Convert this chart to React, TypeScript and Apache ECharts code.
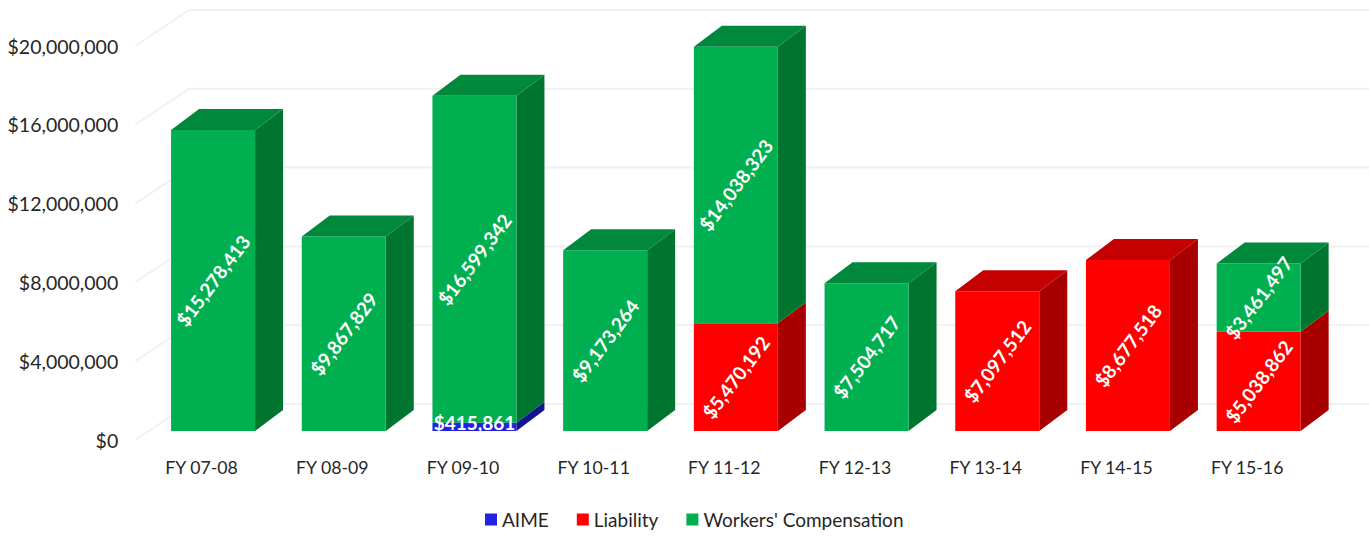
import React, { useEffect, useRef } from "react";
import * as echarts from "echarts";

const categories = ["FY 07-08", "FY 08-09", "FY 09-10", "FY 10-11", "FY 11-12", "FY 12-13", "FY 13-14", "FY 14-15", "FY 15-16"];
const aime = [0, 0, 415861, 0, 0, 0, 0, 0, 0];
const liability = [0, 0, 0, 0, 5470192, 0, 7097512, 8677518, 5038862];
const workersComp = [15278413, 9867829, 16599342, 9173264, 14038323, 7504717, 0, 0, 3461497];
const yTicks = [0, 4000000, 8000000, 12000000, 16000000, 20000000];

const seriesDefs = [
  { name: "AIME", values: aime, front: "#2222E0", side: "#14148F", top: "#1A1AB5", rotate: false },
  { name: "Liability", values: liability, front: "#FF0000", side: "#A80000", top: "#C40000", rotate: true },
  { name: "Workers' Compensation", values: workersComp, front: "#00B050", side: "#00752F", top: "#00883C", rotate: true },
];

const FONT = "Lato, 'Open Sans', sans-serif";
const DX = 28;
const DY = -21;
const BAR_SHIFT_Y = -9;
const WALL_DX = 54;
const WALL_DY = -36;

function fmt(v: number) {
  return "$" + Math.round(v).toLocaleString("en-US");
}

export default function App() {
  const ref = useRef<HTMLDivElement>(null);
  useEffect(() => {
    if (!ref.current) return;
    const chart = echarts.init(ref.current, null, { renderer: "svg" });

    // manual stacking
    const totals = categories.map(() => 0);
    const stacked = seriesDefs.map((s) => {
      return s.values.map((v, i) => {
        const base = totals[i];
        totals[i] += v;
        return [i, base, base + v, v, 0];
      });
    });
    categories.forEach((_, i) => {
      for (let k = seriesDefs.length - 1; k >= 0; k--) {
        if (stacked[k][i][3] > 0) {
          stacked[k][i][4] = 1;
          break;
        }
      }
    });

    const geom = (api: any, i: number, base: number, topV: number) => {
      const c0 = api.coord([i, base]);
      const c1 = api.coord([i, topV]);
      const cx = c0[0];
      return {
        l: cx - 30.5,
        r: cx + 53.5,
        yb: c0[1] + BAR_SHIFT_Y,
        yt: c1[1] + BAR_SHIFT_Y,
      };
    };

    const barSeries = seriesDefs.map((s, k) => ({
      name: s.name,
      type: "custom",
      itemStyle: { color: s.front },
      z: 10 + k,
      data: stacked[k],
      renderItem: (params: any, api: any) => {
        const val = api.value(3);
        if (!(val > 0)) return { type: "group", children: [] };
        const { l, r, yb, yt } = geom(api, api.value(0), api.value(1), api.value(2));
        const children: any[] = [
          {
            type: "polygon",
            shape: { points: [[r, yb], [r + DX, yb + DY], [r + DX, yt + DY], [r, yt]] },
            style: { fill: s.side },
          },
          {
            type: "rect",
            shape: { x: l, y: yt, width: r - l, height: yb - yt },
            style: { fill: s.front },
          },
        ];
        if (api.value(4)) {
          children.push({
            type: "polygon",
            shape: { points: [[l, yt], [r, yt], [r + DX, yt + DY], [l + DX, yt + DY]] },
            style: { fill: s.top },
          });
        }
        return { type: "group", children };
      },
    }));

    const labelSeries = seriesDefs.map((s, k) => ({
      name: s.name + " labels",
      type: "custom",
      z: 50,
      silent: true,
      data: stacked[k],
      renderItem: (params: any, api: any) => {
        const val = api.value(3);
        if (!(val > 0)) return { type: "group", children: [] };
        const { l, r, yb, yt } = geom(api, api.value(0), api.value(1), api.value(2));
        const mx = (l + r) / 2;
        const my = (yb + yt) / 2;
        return {
          type: "text",
          x: mx,
          y: s.rotate ? my : my - 4,
          rotation: s.rotate ? (53 * Math.PI) / 180 : 0,
          style: {
            text: fmt(val),
            fill: "#ffffff",
            font: `bold 19px ${FONT}`,
            align: "center",
            verticalAlign: "middle",
          },
        };
      },
    }));

    const gridSeries = {
      name: "grid",
      type: "custom",
      z: 1,
      silent: true,
      data: yTicks.map((v) => [0, v]),
      renderItem: (params: any, api: any) => {
        const cs = params.coordSys;
        const y = api.coord([0, api.value(1)])[1];
        const x0 = cs.x - 1;
        return {
          type: "polyline",
          shape: {
            points: [
              [x0, y],
              [x0 + WALL_DX, y + WALL_DY],
              [cs.x + cs.width + WALL_DX + 4, y + WALL_DY],
            ],
          },
          style: { stroke: "#f1f1f1", lineWidth: 2, fill: null },
        };
      },
    };

    chart.setOption({
      animation: false,
      backgroundColor: "#ffffff",
      grid: { left: 136.2, right: 56.5, top: 46, bottom: 97, containLabel: false },
      legend: {
        data: seriesDefs.map((s) => s.name),
        left: 485,
        top: 510,
        padding: 0,
        icon: "rect",
        itemWidth: 12,
        itemHeight: 12,
        itemGap: 28,
        textStyle: { fontFamily: FONT, fontSize: 19, color: "#262626" },
      },
      xAxis: {
        type: "category",
        data: categories,
        axisLine: { show: false },
        axisTick: { show: false },
        axisLabel: { fontFamily: FONT, fontSize: 17.7, color: "#262626", margin: 18 },
        splitLine: { show: false },
      },
      yAxis: {
        type: "value",
        min: 0,
        max: 20000000,
        interval: 4000000,
        axisLine: { show: false },
        axisTick: { show: false },
        splitLine: { show: false },
        axisLabel: {
          fontFamily: FONT,
          fontSize: 19.5,
          color: "#262626",
          margin: 18,
          formatter: (v: number) => fmt(v),
        },
      },
      series: [gridSeries, ...barSeries, ...labelSeries],
    });
    return () => chart.dispose();
  }, []);
  return (
    <div
      ref={ref}
      style={{ position: "fixed", left: 0, top: 0, width: 1369, height: 537, background: "#fff" }}
    />
  );
}
